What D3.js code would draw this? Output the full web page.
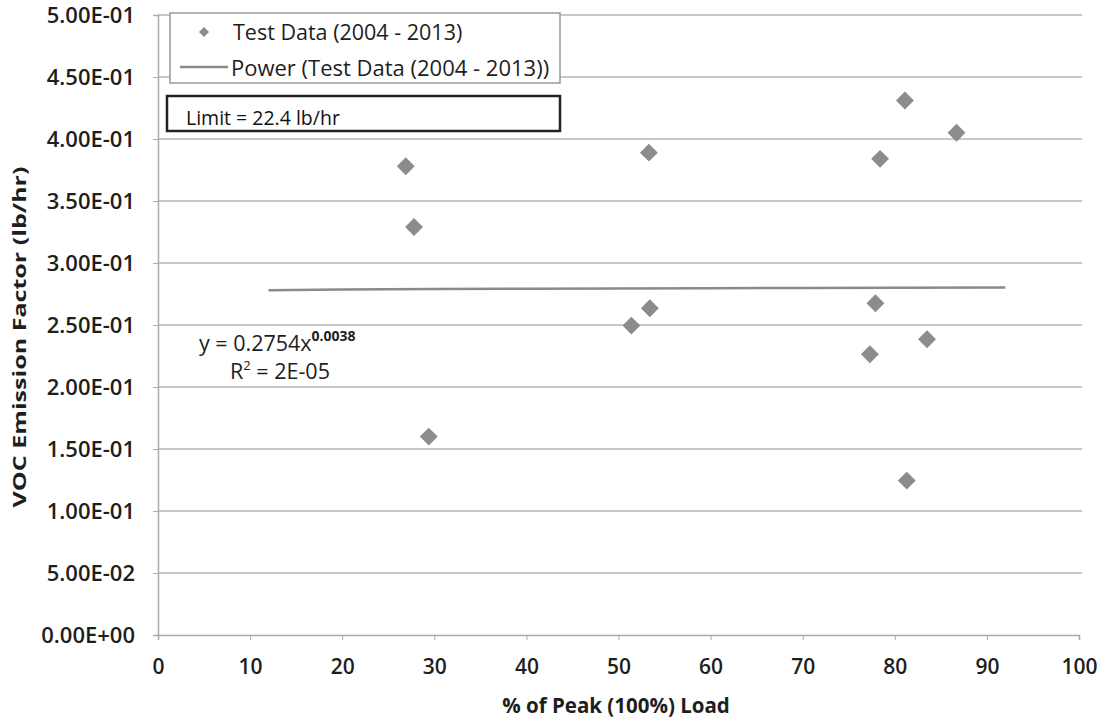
<!DOCTYPE html>
<html>
<head>
<meta charset="utf-8">
<script src="https://cdn.jsdelivr.net/npm/d3@7"></script>
<style>
  body { margin: 0; background: #fff; }
  svg { display: block; font-family: "Open Sans", Lato, sans-serif; }
</style>
</head>
<body>
<div id="chart"></div>
<script>
// Test data (2004 - 2013)
const loadPct = [26.9, 27.8, 29.4, 51.4, 53.4, 53.3, 77.3, 77.9, 78.4, 81.1, 81.3, 83.5, 86.7];
const emission = [0.378, 0.329, 0.160, 0.2495, 0.2635, 0.389, 0.2264, 0.2675, 0.384, 0.431, 0.1245, 0.2385, 0.405];

// power trendline y = a * x^b, drawn over this x span
const trendA = 0.2754;
const trendB = 0.0038;
const trendX = [12, 20, 30, 40, 50, 60, 70, 80, 92];

const yTicks = [0, 0.05, 0.1, 0.15, 0.2, 0.25, 0.3, 0.35, 0.4, 0.45, 0.5];
const xTicks = [0, 10, 20, 30, 40, 50, 60, 70, 80, 90, 100];

const width = 1105, height = 719;
const margin = { left: 158, right: 26, top: 15, bottom: 84 };
const ink = '#1e1e1e';
const font = '"Open Sans", Lato, sans-serif';

const svg = d3.select('#chart').append('svg')
  .attr('width', width)
  .attr('height', height);

const x = d3.scaleLinear().domain([0, 100]).range([margin.left, width - margin.right]);
const y = d3.scaleLinear().domain([0, 0.5]).range([height - margin.bottom, margin.top]);

// gridlines
svg.append('g')
  .selectAll('line')
  .data(yTicks.slice(1))
  .join('line')
  .attr('x1', x(0))
  .attr('x2', x(100) + 3)
  .attr('y1', d => y(d))
  .attr('y2', d => y(d))
  .attr('stroke', '#b4b4b4')
  .attr('stroke-width', 1.5);

// y axis
const yAxis = svg.append('g')
  .attr('transform', `translate(${x(0)},0)`)
  .call(d3.axisLeft(y).tickValues(yTicks).tickSize(5).tickPadding(18)
    .tickFormat(d => d3.format('.2e')(d).replace('e', 'E').replace(/E([+-])(\d)$/, 'E$10$2').toUpperCase()))
  .attr('font-family', font);
yAxis.select('.domain').attr('stroke', '#aaa').attr('stroke-width', 1.5);
yAxis.selectAll('.tick line').attr('stroke', '#aaa');
yAxis.selectAll('text')
  .attr('x', -23)
  .attr('font-size', 22)
  .attr('font-weight', 600)
  .attr('fill', ink);

// x axis
const xAxis = svg.append('g')
  .attr('transform', `translate(0,${y(0)})`)
  .call(d3.axisBottom(x).tickValues(xTicks).tickSize(5).tickPadding(19))
  .attr('font-family', font);
xAxis.select('.domain').attr('stroke', '#aaa').attr('stroke-width', 1.5);
xAxis.selectAll('.tick line').attr('stroke', '#aaa');
xAxis.selectAll('text')
  .attr('font-size', 21)
  .attr('font-weight', 600)
  .attr('fill', ink);

// axis titles
svg.append('text')
  .attr('x', 616)
  .attr('y', 713)
  .attr('text-anchor', 'middle')
  .attr('font-size', 20.5)
  .attr('font-weight', 700)
  .attr('fill', ink)
  .text('% of Peak (100%) Load');

svg.append('text')
  .attr('transform', `translate(26,337) rotate(-90)`)
  .attr('text-anchor', 'middle')
  .attr('font-size', 18)
  .attr('font-weight', 700)
  .attr('fill', ink)
  .attr('textLength', 341)
  .attr('lengthAdjust', 'spacingAndGlyphs')
  .text('VOC Emission Factor (lb/hr)');

// trendline
const line = d3.line()
  .x(d => x(d))
  .y(d => y(trendA * Math.pow(d, trendB)));
svg.append('path')
  .datum(trendX)
  .attr('d', line)
  .attr('fill', 'none')
  .attr('stroke', '#8a8a8a')
  .attr('stroke-width', 2.5);

// data points
const diamond = d3.symbol().type(d3.symbolSquare).size(160);
svg.append('g')
  .selectAll('path')
  .data(loadPct.map((v, i) => [v, emission[i]]))
  .join('path')
  .attr('d', diamond)
  .attr('transform', d => `translate(${x(d[0])},${y(d[1])}) rotate(45)`)
  .attr('fill', '#8c8c8c');

// legend
const legend = svg.append('g');
legend.append('rect')
  .attr('x', 170).attr('y', 13)
  .attr('width', 390).attr('height', 70)
  .attr('fill', '#fff')
  .attr('stroke', '#999')
  .attr('stroke-width', 1.5);
legend.append('path')
  .attr('d', d3.symbol().type(d3.symbolSquare).size(50))
  .attr('transform', 'translate(204,32) rotate(45)')
  .attr('fill', '#8c8c8c');
legend.append('text')
  .attr('x', 233).attr('y', 40)
  .attr('font-size', 21.5)
  .attr('fill', ink)
  .text('Test Data (2004 - 2013)');
legend.append('line')
  .attr('x1', 180).attr('x2', 228)
  .attr('y1', 67).attr('y2', 67)
  .attr('stroke', '#8a8a8a')
  .attr('stroke-width', 2.5);
legend.append('text')
  .attr('x', 231).attr('y', 76)
  .attr('font-size', 22)
  .attr('fill', ink)
  .text('Power (Test Data (2004 - 2013))');

// limit box
svg.append('rect')
  .attr('x', 167).attr('y', 96)
  .attr('width', 393).attr('height', 35)
  .attr('fill', '#fff')
  .attr('stroke', '#222')
  .attr('stroke-width', 2.5);
svg.append('text')
  .attr('x', 186).attr('y', 125)
  .attr('font-size', 19.5)
  .attr('fill', '#111')
  .text('Limit = 22.4 lb/hr');

// trendline equation
const eq = svg.append('text')
  .attr('x', 199).attr('y', 351)
  .attr('font-size', 21.5)
  .attr('fill', ink);
eq.append('tspan').text(`y = ${trendA}x`);
eq.append('tspan').attr('dy', -10).attr('font-size', 14).attr('font-weight', 700).text(trendB);

const r2 = svg.append('text')
  .attr('x', 230).attr('y', 379)
  .attr('font-size', 21.5)
  .attr('fill', ink);
r2.append('tspan').text('R');
r2.append('tspan').attr('dy', -9).attr('font-size', 13).text('2');
r2.append('tspan').attr('dy', 9).text(' = 2E-05');
</script>
</body>
</html>
